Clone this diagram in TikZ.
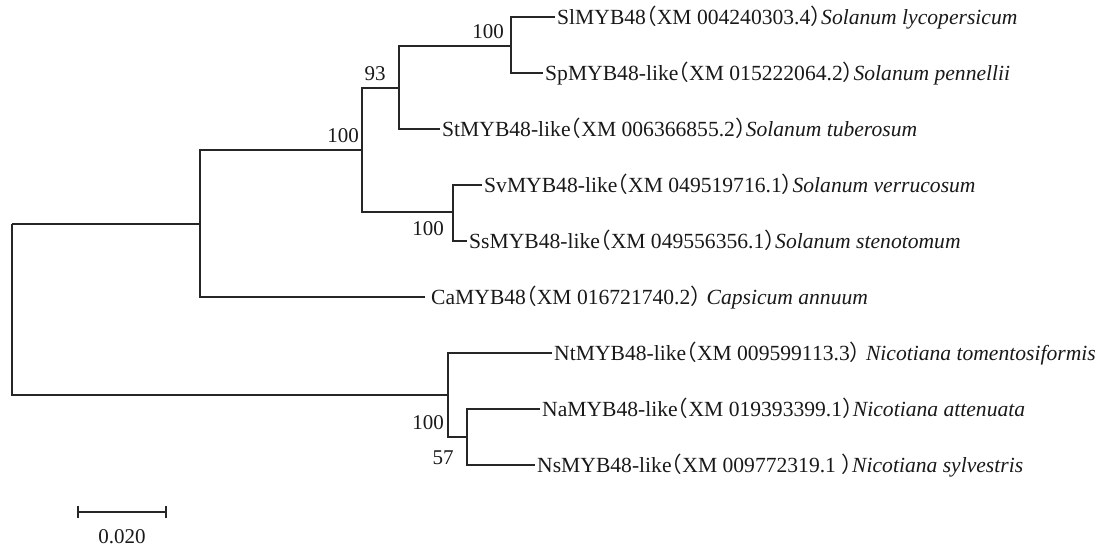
\documentclass[tikz,border=0pt]{standalone}
\usepackage{fontspec}
\setmainfont{Liberation Serif}
\newfontfamily\cjk[RawFeature=+halt]{Noto Sans CJK SC}
\newcommand{\lp}{{\cjk （}}
\newcommand{\rp}{{\cjk ）}}
\begin{document}
\begin{tikzpicture}[x=1pt,y=-1pt,
  br/.style={line width=1.1pt, draw=black!85},
  lab/.style={anchor=base west, inner sep=2pt, font=\fontsize{21.6}{24}\selectfont, text=black!90},
  bs/.style={inner sep=0pt, font=\fontsize{21}{24}\selectfont, text=black!90}]
\useasboundingbox (0,0) rectangle (1107,547);
% internal nodes
\coordinate (R) at (12,224);
\coordinate (A) at (200,224);
\coordinate (B) at (362,150);
\coordinate (C) at (399,88);
\coordinate (D) at (511,46);
\coordinate (E) at (453,212);
\coordinate (F) at (448,395);
\coordinate (G) at (467,437);
% leaves
\node[lab] (Sl) at (555,24) {SlMYB48\lp XM 004240303.4\rp\textit{Solanum lycopersicum}};
\node[lab] (Sp) at (543,80) {SpMYB48-like\lp XM 015222064.2\rp\textit{Solanum pennellii}};
\node[lab] (St) at (440,136) {StMYB48-like\lp XM 006366855.2\rp\textit{Solanum tuberosum}};
\node[lab] (Sv) at (482,192) {SvMYB48-like\lp XM 049519716.1\rp\textit{Solanum verrucosum}};
\node[lab] (Ss) at (467,248) {SsMYB48-like\lp XM 049556356.1\rp\textit{Solanum stenotomum}};
\node[lab, inner sep=6pt] (Ca) at (425,304) {CaMYB48\lp XM 016721740.2\rp\ \textit{Capsicum annuum}};
\node[lab] (Nt) at (552,360) {NtMYB48-like\lp XM 009599113.3\rp\ \textit{Nicotiana tomentosiformis}};
\node[lab] (Na) at (540,416) {NaMYB48-like\lp XM 019393399.1\rp\textit{Nicotiana attenuata}};
\node[lab] (Ns) at (535,472) {NsMYB48-like\lp XM 009772319.1\ \rp\textit{Nicotiana sylvestris}};
% branches
\draw[br] (R) |- (A);
\draw[br] (R) |- (F);
\draw[br] (A) |- (B);
\draw[br] (A) |- ([yshift=7pt]Ca.base west);
\draw[br] (B) |- (C);
\draw[br] (B) |- (E);
\draw[br] (C) |- (D);
\draw[br] (C) |- ([yshift=7pt]St.base west);
\draw[br] (D) |- ([yshift=7pt]Sl.base west);
\draw[br] (D) |- ([yshift=7pt]Sp.base west);
\draw[br] (E) |- ([yshift=7pt]Sv.base west);
\draw[br] (E) |- ([yshift=7pt]Ss.base west);
\draw[br] (F) |- ([yshift=7pt]Nt.base west);
\draw[br] (F) |- (G);
\draw[br] (G) |- ([yshift=7pt]Na.base west);
\draw[br] (G) |- ([yshift=7pt]Ns.base west);
% bootstrap values
\node[bs, anchor=east] (bD) at (504,32) {100};
\node[bs] (bC) at (375,74) {93};
\node[bs, anchor=east] (bB) at (359,136) {100};
\node[bs, anchor=east] (bE) at (444,229) {100};
\node[bs, anchor=east] (bF) at (444,423) {100};
\node[bs] (bG) at (443,458) {57};
% scale bar
\coordinate (s1) at (78,512);
\coordinate (s2) at (166,512);
\draw[br] (s1) -- (s2);
\draw[br] ([yshift=-6pt]s1) -- ([yshift=6pt]s1);
\draw[br] ([yshift=-6pt]s2) -- ([yshift=6pt]s2);
\node[bs] (sl) at (122,536.5) {0.020};
\end{tikzpicture}
\end{document}
